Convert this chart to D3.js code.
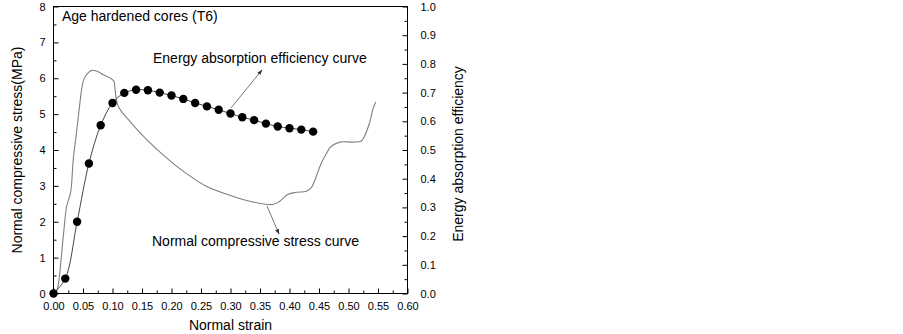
<!DOCTYPE html>
<html>
<head>
<meta charset="utf-8">
<script src="https://cdn.jsdelivr.net/npm/d3@7"></script>
<style>
  body { margin: 0; background: #fff; }
  svg { font-family: Arial, "Liberation Sans", sans-serif; }
</style>
</head>
<body>
<div id="chart"></div>
<script>
// Courbe contrainte / déformation (axe gauche, MPa)
const strainStress = [0, 0.003, 0.0064, 0.0166, 0.0223, 0.029, 0.0335, 0.039, 0.0477, 0.0504, 0.056, 0.0647,
  0.073, 0.0843, 0.0956, 0.1024, 0.104, 0.1097, 0.1295, 0.158, 0.1916, 0.2197, 0.259, 0.304, 0.3326, 0.3715,
  0.3834, 0.397, 0.4116, 0.4286, 0.437, 0.4455, 0.454, 0.465, 0.468, 0.485, 0.5075, 0.5217, 0.527, 0.5357,
  0.5413, 0.546];
const stress = [0, 0.02, 0.11, 1.6, 2.43, 2.82, 3.74, 4.49, 5.69, 5.92, 6.1, 6.22,
  6.2, 6.1, 6.01, 5.92, 5.73, 5.22, 4.8, 4.29, 3.78, 3.41, 2.99, 2.71, 2.57, 2.48,
  2.57, 2.76, 2.82, 2.85, 2.95, 3.27, 3.64, 3.97, 4.06, 4.22, 4.22, 4.25, 4.38, 4.76,
  5.13, 5.34];

// Efficacité d'absorption d'énergie (axe droit), un point tous les 0.02
const strainEff = [0, 0.02, 0.04, 0.06, 0.08, 0.10, 0.12, 0.14, 0.16, 0.18, 0.20, 0.22, 0.24, 0.26,
  0.28, 0.30, 0.32, 0.34, 0.36, 0.38, 0.40, 0.42, 0.44];
const efficiency = [0, 0.052, 0.25, 0.453, 0.586, 0.664, 0.699, 0.71, 0.708, 0.70, 0.69, 0.678, 0.664, 0.652,
  0.64, 0.627, 0.614, 0.604, 0.592, 0.582, 0.576, 0.571, 0.564];
// la ligne dépasse un peu le dernier point
const effLineEnd = [0.447, 0.562];

const xTicks = d3.range(0, 0.6001, 0.05);
const yTicks = d3.range(0, 8.001, 1);
const y2Ticks = d3.range(0, 1.0001, 0.1);

const W = 903, H = 334;
const svg = d3.select("#chart").append("svg").attr("width", W).attr("height", H);

const x = d3.scaleLinear().domain([0, 0.6]).range([53.5, 407.5]);
const y = d3.scaleLinear().domain([0, 8]).range([293.5, 6.5]);
const y2 = d3.scaleLinear().domain([0, 1]).range([293.5, 6.5]);

// Graduations (vers l'intérieur)
function styleAxis(g) {
  g.select(".domain").remove();
  g.selectAll("line").attr("stroke", "#000");
  g.selectAll("text").attr("fill", "#000").attr("font-size", 11);
}

svg.append("g").attr("transform", "translate(0,293.5)")
  .call(d3.axisBottom(x).tickValues(d3.range(0.025, 0.6, 0.05)).tickSize(-3).tickFormat(""))
  .call(styleAxis);
svg.append("g").attr("transform", "translate(0,293.5)")
  .call(d3.axisBottom(x).tickValues(xTicks).tickSize(-5).tickPadding(9).tickFormat(d3.format(".2f")))
  .call(styleAxis);

svg.append("g").attr("transform", "translate(53.5,0)")
  .call(d3.axisLeft(y).tickValues(d3.range(0.5, 8, 1)).tickSize(-3).tickFormat(""))
  .call(styleAxis);
svg.append("g").attr("transform", "translate(53.5,0)")
  .call(d3.axisLeft(y).tickValues(yTicks).tickSize(-5).tickPadding(8).tickFormat(d3.format("d")))
  .call(styleAxis);

svg.append("g").attr("transform", "translate(407.5,0)")
  .call(d3.axisRight(y2).tickValues(d3.range(0.05, 1, 0.1)).tickSize(-3).tickFormat(""))
  .call(styleAxis);
svg.append("g").attr("transform", "translate(407.5,0)")
  .call(d3.axisRight(y2).tickValues(y2Ticks).tickSize(-5).tickPadding(13).tickFormat(d3.format(".1f")))
  .call(styleAxis);

// Cadre
svg.append("rect")
  .attr("x", 53.5).attr("y", 6.5).attr("width", 354).attr("height", 287)
  .attr("fill", "none").attr("stroke", "#000").attr("stroke-width", 1);

// Courbe de contrainte
const stressPts = strainStress.map((s, i) => [s, stress[i]]);
svg.append("path")
  .datum(stressPts)
  .attr("fill", "none").attr("stroke", "#808080").attr("stroke-width", 1.1)
  .attr("d", d3.line().x(d => x(d[0])).y(d => y(d[1])).curve(d3.curveCatmullRom));

// Courbe d'efficacité
const effPts = strainEff.map((s, i) => [s, efficiency[i]]);
svg.append("path")
  .datum(effPts.concat([effLineEnd]))
  .attr("fill", "none").attr("stroke", "#444").attr("stroke-width", 1)
  .attr("d", d3.line().x(d => x(d[0])).y(d => y2(d[1])).curve(d3.curveCatmullRom));

svg.append("g").selectAll("circle")
  .data(effPts)
  .join("circle")
  .attr("cx", d => x(d[0])).attr("cy", d => y2(d[1])).attr("r", 4.2)
  .attr("fill", "#000");

// Flèches
svg.append("defs").append("marker")
  .attr("id", "fl").attr("viewBox", "0 0 10 10").attr("refX", 9).attr("refY", 5)
  .attr("markerWidth", 7).attr("markerHeight", 7).attr("orient", "auto")
  .append("path").attr("d", "M0,1.5 L10,5 L0,8.5 Z").attr("fill", "#333");

svg.append("line")
  .attr("x1", 231).attr("y1", 108).attr("x2", 262).attr("y2", 70)
  .attr("stroke", "#555").attr("stroke-width", 0.8).attr("marker-end", "url(#fl)");
svg.append("line")
  .attr("x1", 267).attr("y1", 206).attr("x2", 279).attr("y2", 234)
  .attr("stroke", "#555").attr("stroke-width", 0.8).attr("marker-end", "url(#fl)");

// Textes
const txt = (t, xx, yy, anchor) => svg.append("text")
  .attr("x", xx).attr("y", yy).attr("font-size", 14).attr("fill", "#000")
  .attr("text-anchor", anchor || "start").text(t);

txt("Age hardened cores (T6)", 62, 21);
txt("Energy absorption efficiency curve", 153, 63);
txt("Normal compressive stress curve", 152, 246);
txt("Normal strain", 230.5, 330, "middle");

svg.append("text")
  .attr("transform", "translate(22,150) rotate(-90)")
  .attr("text-anchor", "middle").attr("font-size", 14).attr("fill", "#000")
  .text("Normal compressive stress(MPa)");
svg.append("text")
  .attr("transform", "translate(463,154) rotate(-90)")
  .attr("text-anchor", "middle").attr("font-size", 14).attr("fill", "#000")
  .text("Energy absorption efficiency");
</script>
</body>
</html>
